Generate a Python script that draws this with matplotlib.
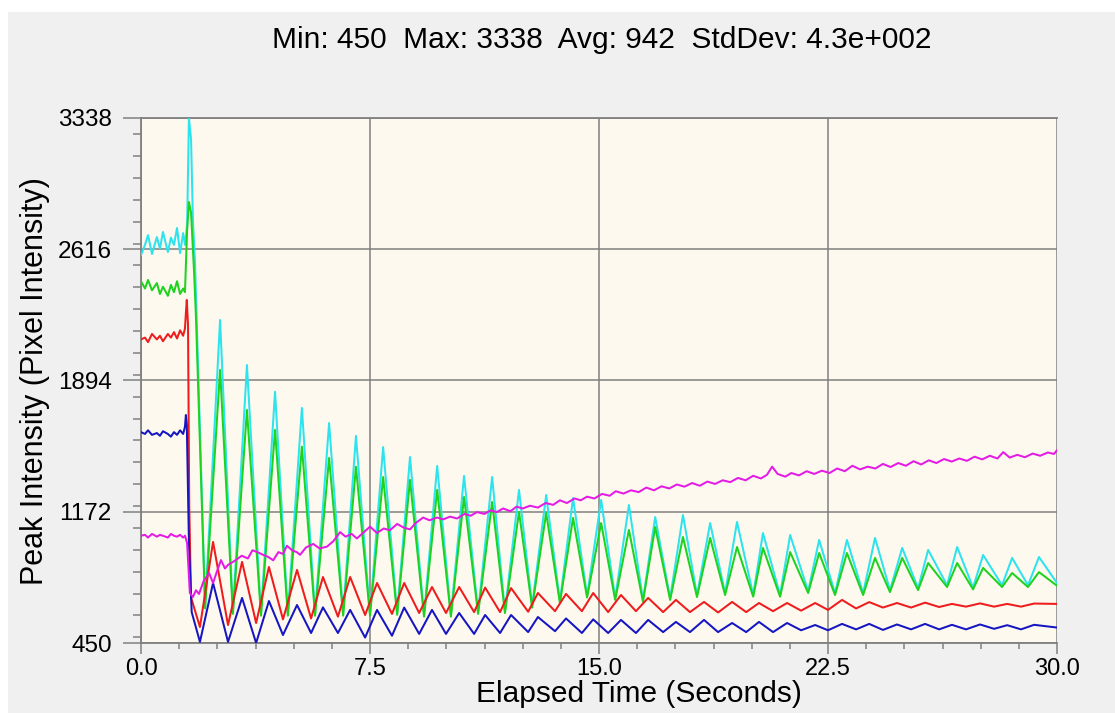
import matplotlib
matplotlib.use("Agg")
import matplotlib.pyplot as plt
from matplotlib.ticker import MultipleLocator, FixedLocator
from matplotlib.patches import Rectangle

plt.rcParams['font.family'] = ['Liberation Sans', 'DejaVu Sans']

# ---- data (time in s, intensity) ----
pre_t = [0.0, 0.13, 0.23, 0.36, 0.52, 0.62, 0.72, 0.88, 0.98, 1.08, 1.18, 1.28, 1.38, 1.44]

cyan_pre = [2584, 2640, 2694, 2590, 2683, 2620, 2711, 2601, 2680, 2640, 2733, 2595, 2705, 2640]
green_pre = [2440, 2400, 2447, 2390, 2430, 2370, 2410, 2360, 2420, 2380, 2440, 2370, 2400, 2380]
red_pre = [2120, 2130, 2105, 2150, 2120, 2140, 2110, 2150, 2130, 2160, 2125, 2170, 2140, 2180]
blue_pre = [1610, 1600, 1620, 1595, 1605, 1590, 1615, 1600, 1585, 1610, 1595, 1620, 1600, 1640]
magenta_pre = [1040, 1045, 1030, 1050, 1035, 1045, 1040, 1030, 1050, 1040, 1035, 1045, 1030, 1040]

# the jump around t = 1.5 s
cyan_spike_t = [1.51, 1.57, 1.64, 1.70, 1.77]
cyan_spike = [2750, 3338, 3220, 2777, 2540]
green_spike_t = [1.51, 1.57, 1.64, 1.74, 1.80]
green_spike = [2720, 2876, 2815, 2485, 2243]
red_spike_t = [1.47, 1.50, 1.54, 1.58, 1.64]
red_spike = [2265, 2337, 2200, 1200, 700]
blue_spike_t = [1.47, 1.50, 1.57, 1.66]
blue_spike = [1704, 1650, 1000, 620]

# cyan / green oscillation: trough times and peak times
cg_trough_t = [2.10, 3.01, 3.93, 4.81, 5.70, 6.62, 7.50, 8.39, 9.27, 10.15, 11.04, 11.92,
               12.81, 13.72, 14.61, 15.53, 16.44, 17.33, 18.21, 19.13, 20.05, 20.93,
               21.85, 22.73, 23.65, 24.53, 25.45, 26.40, 27.25, 28.20, 29.05]
cg_peak_t = [2.59, 3.47, 4.39, 5.27, 6.16, 7.04, 7.93, 8.81, 9.70, 10.58, 11.50, 12.38,
             13.27, 14.15, 15.07, 15.98, 16.84, 17.75, 18.64, 19.52, 20.37, 21.26,
             22.21, 23.12, 24.04, 24.93, 25.78, 26.73, 27.58, 28.53, 29.41]

cyan_peaks = [2227, 1979, 1832, 1743, 1660, 1589, 1528, 1473, 1424, 1369, 1363, 1292,
              1264, 1248, 1237, 1209, 1143, 1154, 1110, 1116, 1055, 1044, 1017, 1017,
              1028, 973, 962, 978, 934, 918, 923]
cyan_troughs = [650, 620, 610, 610, 610, 610, 610, 615, 605, 605, 620, 625, 655, 680,
                710, 697, 687, 697, 713, 724, 715, 715, 735, 724, 724, 740, 751, 768,
                755, 768, 768]
green_peaks = [1952, 1732, 1622, 1530, 1468, 1420, 1363, 1347, 1292, 1253, 1226, 1171,
               1165, 1138, 1110, 1072, 1088, 1033, 1028, 978, 973, 950, 945, 945, 918,
               918, 890, 890, 863, 835, 840]
green_troughs = [640, 610, 600, 600, 600, 600, 600, 605, 595, 595, 610, 615, 645, 670,
                 700, 687, 677, 687, 703, 714, 705, 705, 725, 714, 714, 730, 741, 758,
                 745, 758, 758]

# red / blue oscillation (slightly earlier phase)
rb_trough_t = [1.93, 2.85, 3.77, 4.65, 5.57, 6.45, 7.34, 8.22, 9.11, 9.99, 10.91, 11.76,
               12.68, 13.56, 14.44, 15.30, 16.21, 17.10, 17.98, 18.90, 19.82, 20.70,
               21.62, 22.50, 23.42, 24.30, 25.22, 26.14, 27.02, 27.94, 28.82]
rb_peak_t = [2.36, 3.31, 4.19, 5.11, 5.96, 6.85, 7.73, 8.62, 9.53, 10.42, 11.27, 12.12,
             13.00, 13.92, 14.81, 15.72, 16.61, 17.52, 18.44, 19.36, 20.24, 21.16,
             22.08, 22.96, 23.85, 24.76, 25.68, 26.56, 27.48, 28.37, 29.25]

red_troughs = [538, 549, 560, 580, 585, 595, 604, 610, 615, 615, 620, 620, 622, 625,
               625, 620, 625, 620, 620, 618, 620, 625, 628, 632, 640, 645, 645, 648,
               650, 650, 650]
red_peaks = [1006, 896, 868, 852, 813, 813, 780, 780, 758, 758, 755, 752, 725, 720,
             725, 714, 698, 687, 676, 676, 670, 670, 670, 687, 675, 670, 672, 665,
             668, 665, 667]
blue_troughs = [456, 456, 450, 494, 505, 505, 480, 490, 500, 500, 500, 505, 510, 515,
                505, 505, 505, 510, 510, 510, 510, 510, 520, 520, 525, 522, 525, 525,
                525, 528, 525]
blue_peaks = [780, 698, 681, 659, 646, 632, 632, 645, 632, 615, 604, 604, 593, 585,
              580, 577, 577, 566, 577, 560, 566, 560, 549, 555, 555, 552, 555, 550,
              552, 548, 550]

end_t = 30.0
cyan_end, green_end, red_end, blue_end = 780, 765, 665, 535

# magenta: noisy, slowly rising trace after the drop
magenta_t = [1.51, 1.60, 1.70, 1.80, 1.90, 2.05, 2.23, 2.36, 2.50, 2.62, 2.75, 2.85,
             3.05, 3.30, 3.50, 3.65, 3.80, 4.00, 4.15, 4.33, 4.50, 4.65, 4.78, 4.95,
             5.10, 5.21, 5.40, 5.64, 5.85, 6.09, 6.30, 6.52, 6.70, 6.90, 7.07, 7.30,
             7.50, 7.73, 7.95, 8.15, 8.39, 8.60, 8.81, 9.00, 9.24, 9.45, 9.70, 9.90,
             10.12, 10.35, 10.60, 10.80, 11.00, 11.25, 11.45, 11.65, 11.86, 12.10,
             12.30, 12.50, 12.74, 13.00, 13.25, 13.50, 13.72, 13.95, 14.20, 14.40,
             14.61, 14.85, 15.10, 15.35, 15.55, 15.80, 16.05, 16.30, 16.55, 16.80,
             17.05, 17.30, 17.55, 17.80, 18.05, 18.30, 18.55, 18.80, 19.05, 19.30,
             19.55, 19.80, 20.05, 20.30, 20.50, 20.67, 20.85, 21.10, 21.30, 21.55,
             21.80, 22.05, 22.30, 22.55, 22.80, 23.05, 23.30, 23.55, 23.80, 24.05,
             24.30, 24.55, 24.80, 25.05, 25.30, 25.55, 25.80, 26.05, 26.30, 26.55,
             26.80, 27.05, 27.30, 27.55, 27.80, 28.05, 28.24, 28.45, 28.70, 28.95,
             29.20, 29.45, 29.70, 29.90, 30.0]
magenta_v = [1000, 725, 703, 740, 720, 790, 835, 780, 850, 906, 860, 880,
             900, 930, 915, 960, 951, 935, 925, 905, 950, 940, 985, 960,
             950, 935, 975, 995, 970, 980, 1010, 1060, 1035, 1050, 1025, 1060,
             1090, 1055, 1080, 1070, 1105, 1085, 1075, 1110, 1140, 1125, 1140, 1130,
             1145, 1135, 1160, 1150, 1170, 1160, 1180, 1170, 1190, 1175,
             1200, 1190, 1205, 1195, 1220, 1210, 1235, 1220, 1245, 1235,
             1255, 1245, 1270, 1260, 1285, 1272, 1290, 1280, 1305, 1290,
             1312, 1300, 1322, 1310, 1330, 1315, 1338, 1325, 1345, 1335,
             1358, 1345, 1370, 1355, 1375, 1420, 1380, 1365, 1385, 1372,
             1395, 1380, 1398, 1385, 1410, 1395, 1425, 1405, 1420, 1410,
             1435, 1418, 1440, 1425, 1450, 1432, 1455, 1440, 1462, 1448,
             1465, 1452, 1475, 1460, 1480, 1465, 1500, 1470, 1485, 1472,
             1492, 1480, 1498, 1490, 1510]

y_ticks = [450, 1172, 1894, 2616, 3338]
x_ticks = [0.0, 7.5, 15.0, 22.5, 30.0]


def build(pre_v, sp_t, sp_v, tr_t, tr_v, pk_t, pk_v, last):
    t = list(pre_t) + list(sp_t)
    v = list(pre_v) + list(sp_v)
    for a, b, c, d in zip(tr_t, tr_v, pk_t, pk_v):
        t += [a, c]
        v += [b, d]
    t.append(end_t)
    v.append(last)
    return t, v


cyan_t, cyan_v = build(cyan_pre, cyan_spike_t, cyan_spike, cg_trough_t, cyan_troughs,
                       cg_peak_t, cyan_peaks, cyan_end)
green_t, green_v = build(green_pre, green_spike_t, green_spike, cg_trough_t, green_troughs,
                         cg_peak_t, green_peaks, green_end)
red_t, red_v = build(red_pre, red_spike_t, red_spike, rb_trough_t, red_troughs,
                     rb_peak_t, red_peaks, red_end)
blue_t, blue_v = build(blue_pre, blue_spike_t, blue_spike, rb_trough_t, blue_troughs,
                       rb_peak_t, blue_peaks, blue_end)
mag_t = list(pre_t) + magenta_t
mag_v = list(magenta_pre) + magenta_v

# ---- figure ----
W, H = 1115, 713
fig = plt.figure(figsize=(W / 100, H / 100), dpi=100, facecolor="white")
fig.patches.append(Rectangle((8 / W, 0), 1, 1 - 12 / H, transform=fig.transFigure,
                             facecolor="#f0f0f0", edgecolor="none", zorder=-10))

ax = fig.add_axes([141 / W, 1 - 643 / H, (1057 - 141) / W, (643 - 118) / H])
ax.set_facecolor("#fdf9ef")

lw = 1.45
ax.plot(cyan_t, cyan_v, color="#2ce3ee", lw=lw, zorder=3)
ax.plot(green_t, green_v, color="#1ed21e", lw=lw, zorder=4)
ax.plot(red_t, red_v, color="#ee1c1c", lw=lw, zorder=5)
ax.plot(blue_t, blue_v, color="#1515c2", lw=lw, zorder=6)
ax.plot(mag_t, mag_v, color="#e41be4", lw=lw, zorder=7)

ax.set_xlim(0, 30)
ax.set_ylim(450, 3338)
ax.xaxis.set_major_locator(FixedLocator(x_ticks))
ax.set_xticklabels([f"{x:.1f}" for x in x_ticks])
ax.xaxis.set_minor_locator(MultipleLocator(1.25))
ax.yaxis.set_major_locator(FixedLocator(y_ticks))
ax.set_yticklabels([str(y) for y in y_ticks])
ax.yaxis.set_minor_locator(MultipleLocator((3338 - 450) / 24))

gray = "#808080"
ax.grid(True, which="major", color=gray, lw=1.1, zorder=1)
ax.set_axisbelow(True)
for side in ["left", "bottom", "top"]:
    ax.spines[side].set_color(gray)
    ax.spines[side].set_linewidth(1.3)
ax.spines["right"].set_visible(False)

ax.tick_params(axis="y", which="major", direction="out", length=13, width=1.1,
               color=gray, labelsize=17.5, pad=8)
ax.tick_params(axis="y", which="minor", direction="out", length=5.8, width=1.1, color=gray)
ax.tick_params(axis="x", which="major", direction="out", length=8, width=1.1,
               color=gray, labelsize=17, pad=3)
ax.tick_params(axis="x", which="minor", direction="out", length=4.3, width=1.1, color=gray)

fig.text(602 / W, 1 - 40 / H, "Min: 450  Max: 3338  Avg: 942  StdDev: 4.3e+002",
         ha="center", va="center", fontsize=21.5)
fig.text(639 / W, 1 - 694 / H, "Elapsed Time (Seconds)", ha="center", va="center",
         fontsize=21.5)
fig.text(35 / W, 1 - 381 / H, "Peak Intensity (Pixel Intensity)", ha="center",
         va="center", rotation=90, fontsize=22)

fig.savefig("out.png", dpi=100, facecolor=fig.get_facecolor())
